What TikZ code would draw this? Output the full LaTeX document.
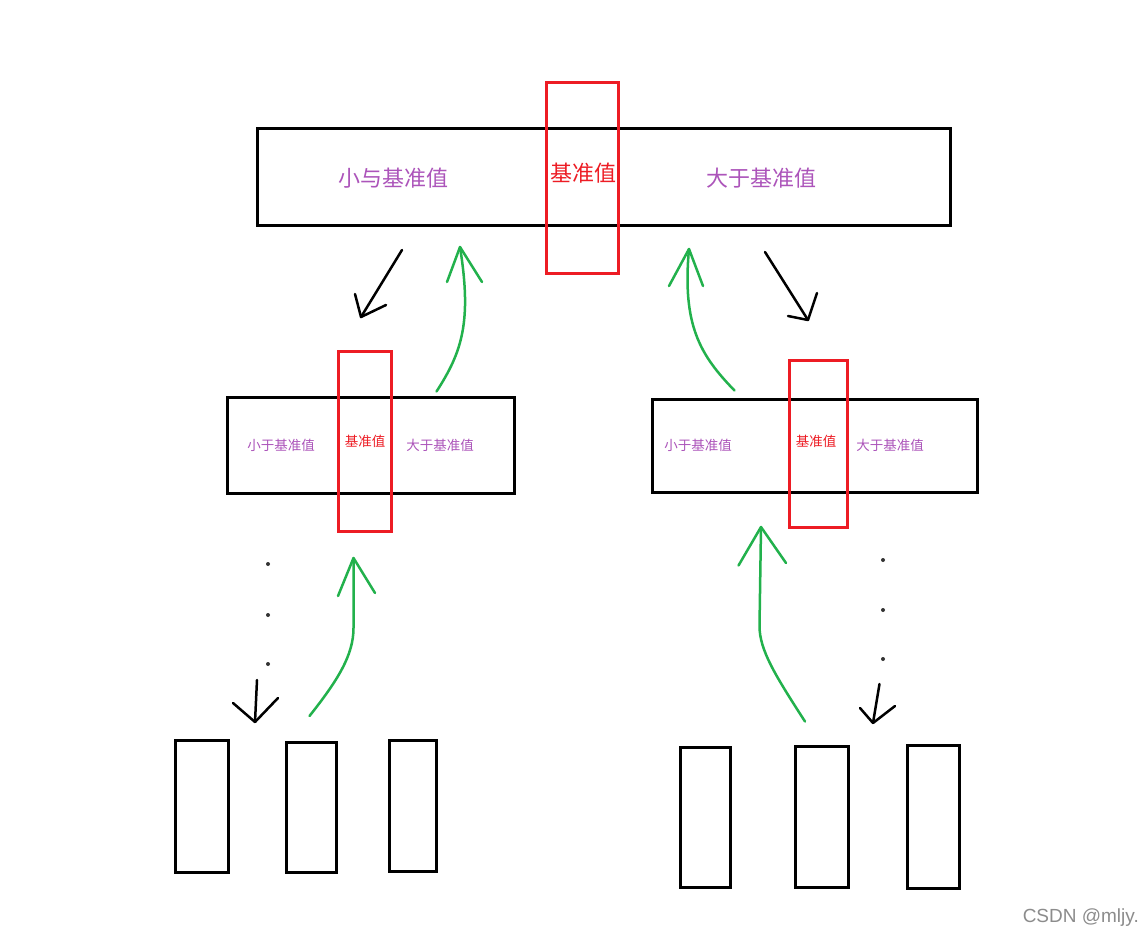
\documentclass[tikz,border=0pt]{standalone}
\usepackage{fontspec}
\newfontfamily\cjk{Noto Sans CJK SC}
\setmainfont{Liberation Sans}
\definecolor{pRed}{HTML}{ED1C24}
\definecolor{pGreen}{HTML}{22B14C}
\definecolor{pPurple}{RGB}{172,84,186}
\begin{document}
\begin{tikzpicture}[x=1pt,y=-1pt,
  blkbox/.style={draw=black,line width=3pt,minimum width=#1,inner sep=0pt},
  redbox/.style={draw=pRed,line width=3pt,minimum width=#1,inner sep=0pt},
  bigtxt/.style={text=pPurple,font=\cjk\fontsize{22}{24}\selectfont,inner sep=0pt},
  bigred/.style={text=pRed,font=\cjk\fontsize{22}{24}\selectfont,inner sep=0pt},
  smalltxt/.style={text=pPurple,font=\cjk\fontsize{13.5}{15}\selectfont,inner sep=0pt},
  smallred/.style={text=pRed,font=\cjk\fontsize{13.5}{15}\selectfont,inner sep=0pt},
  blkarrow/.style={draw=black,line width=2.5pt,line cap=round,line join=round},
  grnarrow/.style={draw=pGreen,line width=2.5pt,line cap=round,line join=round},
  dotmark/.style={circle,fill=black!80,inner sep=0pt,minimum size=4pt}]
\useasboundingbox (0,0) rectangle (1146,939);
\fill[white] (0,0) rectangle (1146,939);

% top level
\node[blkbox=693pt,minimum height=96pt] (top) at (603.5,177) {};
\node[redbox=72pt,minimum height=191pt] (topR) at (582.5,178) {};
\node[bigtxt] (topL1) at (393,178) {小与基准值};
\node[bigred] (topP) at (583,173) {基准值};
\node[bigtxt] (topG1) at (761,178) {大于基准值};

% middle left
\node[blkbox=287pt,minimum height=96pt] (ml) at (370.5,445.5) {};
\node[redbox=53pt,minimum height=180pt] (mlR) at (365,441.5) {};
\node[smalltxt] (mlL) at (281,445) {小于基准值};
\node[smallred] (mlP) at (365,441) {基准值};
\node[smalltxt] (mlG) at (440,445) {大于基准值};

% middle right
\node[blkbox=325pt,minimum height=93pt] (mr) at (815,446) {};
\node[redbox=58pt,minimum height=167pt] (mrR) at (818.5,444) {};
\node[smalltxt] (mrL) at (698,445) {小于基准值};
\node[smallred] (mrP) at (816,441) {基准值};
\node[smalltxt] (mrG) at (890,445) {大于基准值};

% bottom boxes
\node[blkbox=53pt,minimum height=132pt] (b1) at (202,806.5) {};
\node[blkbox=50pt,minimum height=130pt] (b2) at (311.5,807.5) {};
\node[blkbox=47pt,minimum height=131pt] (b3) at (413,806) {};
\node[blkbox=50pt,minimum height=140pt] (b4) at (705.5,817.5) {};
\node[blkbox=53pt,minimum height=141pt] (b5) at (822,817) {};
\node[blkbox=52pt,minimum height=143pt] (b6) at (933.5,817) {};

% dots
\node[dotmark] (d1) at (268,564) {};
\node[dotmark] (d2) at (268,615) {};
\node[dotmark] (d3) at (268,664) {};
\node[dotmark] (d4) at (883,560) {};
\node[dotmark] (d5) at (883,610) {};
\node[dotmark] (d6) at (883,659) {};

% arrow coordinates
\coordinate (a1s) at (402,250);
\coordinate (a1t) at (361,317);
\coordinate (a1b) at (355,294);
\coordinate (a1c) at (386,305);

\coordinate (a2s) at (765,252);
\coordinate (a2t) at (808,320);
\coordinate (a2b) at (788,316);
\coordinate (a2c) at (817,293);

\coordinate (g1s) at (436.5,391.5);
\coordinate (g1t) at (460,247);
\coordinate (g1b) at (447,282);
\coordinate (g1c) at (482,282);

\coordinate (g2s) at (734.5,390.5);
\coordinate (g2t) at (689,249);
\coordinate (g2b) at (669,286);
\coordinate (g2c) at (703,286);

\coordinate (g3s) at (309.5,716);
\coordinate (g3m) at (353.5,628);
\coordinate (g3t) at (353.5,558);
\coordinate (g3b) at (338,596);
\coordinate (g3c) at (375,593);

\coordinate (g4s) at (805,721.5);
\coordinate (g4m) at (759.5,626);
\coordinate (g4t) at (761,527);
\coordinate (g4b) at (738.5,565.5);
\coordinate (g4c) at (786,563);

\coordinate (a3s) at (257,680);
\coordinate (a3t) at (255,722);
\coordinate (a3b) at (233,703);
\coordinate (a3c) at (278,698);

\coordinate (a4s) at (879.5,684);
\coordinate (a4t) at (873,723);
\coordinate (a4b) at (860,708);
\coordinate (a4c) at (895,706);

% black arrows
\draw[blkarrow] (a1s) -- (a1t);
\draw[blkarrow] (a1b) -- (a1t) -- (a1c);
\draw[blkarrow] (a2s) -- (a2t);
\draw[blkarrow] (a2b) -- (a2t) -- (a2c);
\draw[blkarrow] (a3s) -- (a3t);
\draw[blkarrow] (a3b) -- (a3t) -- (a3c);
\draw[blkarrow] (a4s) -- (a4t);
\draw[blkarrow] (a4b) -- (a4t) -- (a4c);

% green arrows
\draw[grnarrow] (g1s) .. controls (462,352) and (472,322) .. (g1t);
\draw[grnarrow] (g1b) -- (g1t) -- (g1c);
\draw[grnarrow] (g2s) .. controls (700,355) and (682,325) .. (g2t);
\draw[grnarrow] (g2b) -- (g2t) -- (g2c);
\draw[grnarrow] (g3s) .. controls (338,680) and (353.5,655) .. (g3m) -- (g3t);
\draw[grnarrow] (g3b) -- (g3t) -- (g3c);
\draw[grnarrow] (g4s) .. controls (775,675) and (759.5,650) .. (g4m) -- (g4t);
\draw[grnarrow] (g4b) -- (g4t) -- (g4c);

% watermark
\node[text=black!45,font=\fontsize{19}{21}\selectfont,anchor=east,inner sep=0pt] (wm) at (1139,918) {CSDN @mljy.};
\end{tikzpicture}
\end{document}
